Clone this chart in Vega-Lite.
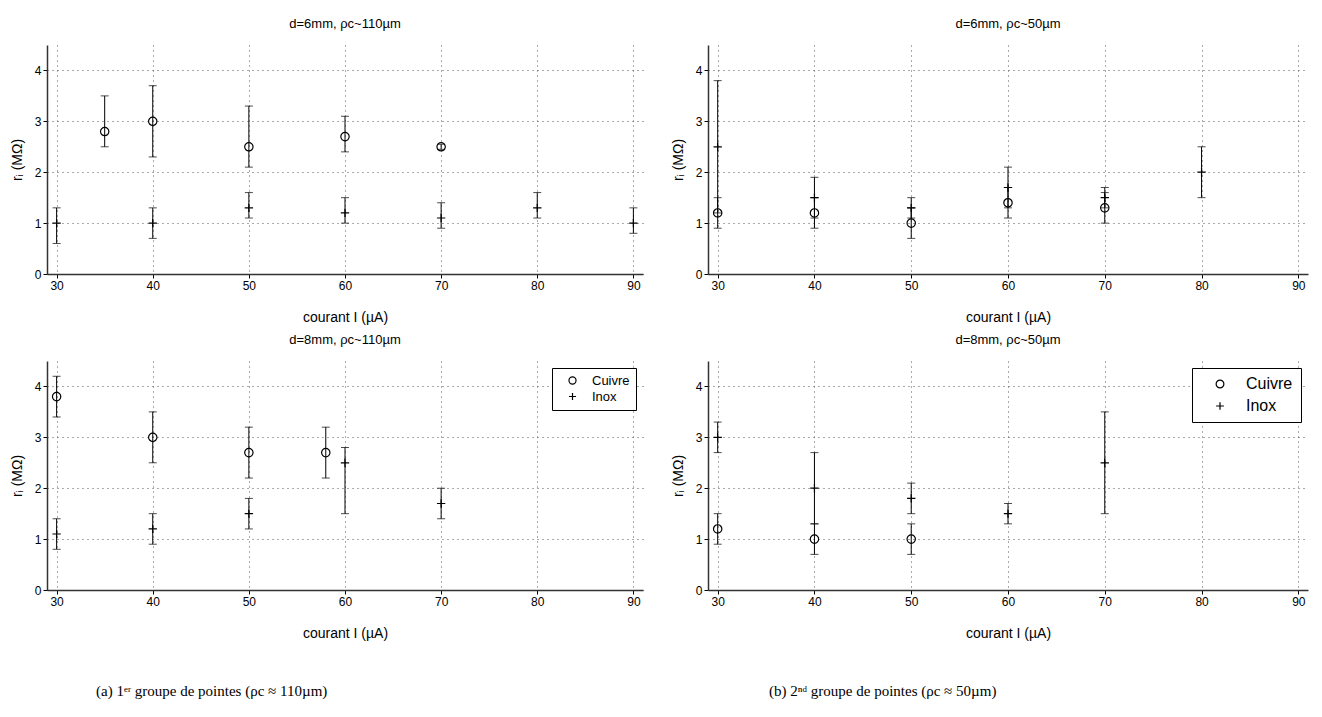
{
  "$schema": "https://vega.github.io/schema/vega-lite/v6.json",
  "padding": {"left": 10, "top": 18, "right": 5, "bottom": 5},
  "background": "white",
  "datasets": {
    "pts": [
      {"p": "A", "s": "Cuivre", "I": 35, "r": 2.8, "lo": 2.5, "hi": 3.5},
      {"p": "A", "s": "Cuivre", "I": 40, "r": 3.0, "lo": 2.3, "hi": 3.7},
      {"p": "A", "s": "Cuivre", "I": 50, "r": 2.5, "lo": 2.1, "hi": 3.3},
      {"p": "A", "s": "Cuivre", "I": 60, "r": 2.7, "lo": 2.4, "hi": 3.1},
      {"p": "A", "s": "Cuivre", "I": 70, "r": 2.5, "lo": 2.45, "hi": 2.55},
      {"p": "A", "s": "Inox", "I": 30, "r": 1.0, "lo": 0.6, "hi": 1.3},
      {"p": "A", "s": "Inox", "I": 40, "r": 1.0, "lo": 0.7, "hi": 1.3},
      {"p": "A", "s": "Inox", "I": 50, "r": 1.3, "lo": 1.1, "hi": 1.6},
      {"p": "A", "s": "Inox", "I": 60, "r": 1.2, "lo": 1.0, "hi": 1.5},
      {"p": "A", "s": "Inox", "I": 70, "r": 1.1, "lo": 0.9, "hi": 1.4},
      {"p": "A", "s": "Inox", "I": 80, "r": 1.3, "lo": 1.1, "hi": 1.6},
      {"p": "A", "s": "Inox", "I": 90, "r": 1.0, "lo": 0.8, "hi": 1.3},
      {"p": "B", "s": "Cuivre", "I": 30, "r": 1.2, "lo": 0.9, "hi": 1.5},
      {"p": "B", "s": "Cuivre", "I": 40, "r": 1.2, "lo": 0.9, "hi": 1.5},
      {"p": "B", "s": "Cuivre", "I": 50, "r": 1.0, "lo": 0.7, "hi": 1.3},
      {"p": "B", "s": "Cuivre", "I": 60, "r": 1.4, "lo": 1.1, "hi": 1.7},
      {"p": "B", "s": "Cuivre", "I": 70, "r": 1.3, "lo": 1.0, "hi": 1.6},
      {"p": "B", "s": "Inox", "I": 30, "r": 2.5, "lo": 1.2, "hi": 3.8},
      {"p": "B", "s": "Inox", "I": 40, "r": 1.5, "lo": 1.1, "hi": 1.9},
      {"p": "B", "s": "Inox", "I": 50, "r": 1.3, "lo": 1.1, "hi": 1.5},
      {"p": "B", "s": "Inox", "I": 60, "r": 1.7, "lo": 1.3, "hi": 2.1},
      {"p": "B", "s": "Inox", "I": 70, "r": 1.5, "lo": 1.3, "hi": 1.7},
      {"p": "B", "s": "Inox", "I": 80, "r": 2.0, "lo": 1.5, "hi": 2.5},
      {"p": "C", "s": "Cuivre", "I": 30, "r": 3.8, "lo": 3.4, "hi": 4.2},
      {"p": "C", "s": "Cuivre", "I": 40, "r": 3.0, "lo": 2.5, "hi": 3.5},
      {"p": "C", "s": "Cuivre", "I": 50, "r": 2.7, "lo": 2.2, "hi": 3.2},
      {"p": "C", "s": "Cuivre", "I": 58, "r": 2.7, "lo": 2.2, "hi": 3.2},
      {"p": "C", "s": "Inox", "I": 30, "r": 1.1, "lo": 0.8, "hi": 1.4},
      {"p": "C", "s": "Inox", "I": 40, "r": 1.2, "lo": 0.9, "hi": 1.5},
      {"p": "C", "s": "Inox", "I": 50, "r": 1.5, "lo": 1.2, "hi": 1.8},
      {"p": "C", "s": "Inox", "I": 60, "r": 2.5, "lo": 1.5, "hi": 2.8},
      {"p": "C", "s": "Inox", "I": 70, "r": 1.7, "lo": 1.4, "hi": 2.0},
      {"p": "D", "s": "Cuivre", "I": 30, "r": 1.2, "lo": 0.9, "hi": 1.5},
      {"p": "D", "s": "Cuivre", "I": 40, "r": 1.0, "lo": 0.7, "hi": 1.3},
      {"p": "D", "s": "Cuivre", "I": 50, "r": 1.0, "lo": 0.7, "hi": 1.3},
      {"p": "D", "s": "Inox", "I": 30, "r": 3.0, "lo": 2.7, "hi": 3.3},
      {"p": "D", "s": "Inox", "I": 40, "r": 2.0, "lo": 1.3, "hi": 2.7},
      {"p": "D", "s": "Inox", "I": 50, "r": 1.8, "lo": 1.5, "hi": 2.1},
      {"p": "D", "s": "Inox", "I": 60, "r": 1.5, "lo": 1.3, "hi": 1.7},
      {"p": "D", "s": "Inox", "I": 70, "r": 2.5, "lo": 1.5, "hi": 3.5}
    ]
  },
  "resolve": {"scale": {"shape": "independent"}, "legend": {"shape": "independent"}},
  "spacing": 28,
  "hconcat": [
    {
      "title": {"text": "(a) 1ᵉʳ groupe de pointes (ρc ≈ 110µm)", "orient": "bottom", "anchor": "middle", "dx": -115, "offset": 44, "font": "Liberation Serif", "fontSize": 15},
      "resolve": {"scale": {"shape": "independent"}, "legend": {"shape": "independent"}},
      "spacing": 10,
      "vconcat": [
        {
          "title": "d=6mm, ρc~110µm",
          "width": 596, "height": 229,
          "data": {"name": "pts"},
          "transform": [{"filter": "datum.p === 'A'"}],
          "encoding": {
            "x": {"field": "I", "type": "quantitative", "title": "courant I (µA)", "scale": {"domain": [29, 91], "nice": false, "zero": false}, "axis": {"values": [30, 40, 50, 60, 70, 80, 90]}}
          },
          "layer": [
            {"mark": {"type": "rule", "color": "black", "strokeWidth": 1}, "encoding": {"y": {"field": "lo", "type": "quantitative", "title": "rᵢ (MΩ)", "scale": {"domain": [0, 4.5], "nice": false}, "axis": {"values": [0, 1, 2, 3, 4]}}, "y2": {"field": "hi"}}},
            {"mark": {"type": "tick", "orient": "horizontal", "size": 8, "thickness": 1, "color": "black"}, "encoding": {"y": {"field": "lo", "type": "quantitative", "title": "rᵢ (MΩ)"}}},
            {"mark": {"type": "tick", "orient": "horizontal", "size": 8, "thickness": 1, "color": "black"}, "encoding": {"y": {"field": "hi", "type": "quantitative", "title": "rᵢ (MΩ)"}}},
            {"mark": {"type": "point", "filled": false, "color": "black", "strokeWidth": 1.2, "opacity": 1}, "encoding": {"y": {"field": "r", "type": "quantitative", "title": "rᵢ (MΩ)"}, "shape": {"field": "s", "type": "nominal", "scale": {"domain": ["Cuivre", "Inox"], "range": ["circle", "M-1,0L1,0M0,-1L0,1"]}, "legend": null}, "size": {"value": 70}}}
          ]
        },
        {
          "title": "d=8mm, ρc~110µm",
          "width": 596, "height": 229,
          "data": {"name": "pts"},
          "transform": [{"filter": "datum.p === 'C'"}],
          "encoding": {
            "x": {"field": "I", "type": "quantitative", "title": "courant I (µA)", "scale": {"domain": [29, 91], "nice": false, "zero": false}, "axis": {"values": [30, 40, 50, 60, 70, 80, 90]}}
          },
          "layer": [
            {"mark": {"type": "rule", "color": "black", "strokeWidth": 1}, "encoding": {"y": {"field": "lo", "type": "quantitative", "title": "rᵢ (MΩ)", "scale": {"domain": [0, 4.5], "nice": false}, "axis": {"values": [0, 1, 2, 3, 4]}}, "y2": {"field": "hi"}}},
            {"mark": {"type": "tick", "orient": "horizontal", "size": 8, "thickness": 1, "color": "black"}, "encoding": {"y": {"field": "lo", "type": "quantitative", "title": "rᵢ (MΩ)"}}},
            {"mark": {"type": "tick", "orient": "horizontal", "size": 8, "thickness": 1, "color": "black"}, "encoding": {"y": {"field": "hi", "type": "quantitative", "title": "rᵢ (MΩ)"}}},
            {"mark": {"type": "point", "filled": false, "color": "black", "strokeWidth": 1.2, "opacity": 1}, "encoding": {"y": {"field": "r", "type": "quantitative", "title": "rᵢ (MΩ)"}, "shape": {"field": "s", "type": "nominal", "scale": {"domain": ["Cuivre", "Inox"], "range": ["circle", "M-1,0L1,0M0,-1L0,1"]}, "legend": {"title": null, "orient": "top-right", "offset": 7, "strokeColor": "black", "fillColor": "white", "padding": 6, "labelFontSize": 13, "symbolSize": 50, "symbolStrokeColor": "black", "symbolStrokeWidth": 1.2, "rowPadding": 2, "symbolOffset": 8, "labelOffset": 13}}, "size": {"value": 70}}}
          ]
        }
      ]
    },
    {
      "title": {"text": "(b) 2ⁿᵈ groupe de pointes (ρc ≈ 50µm)", "orient": "bottom", "anchor": "middle", "dx": -107, "offset": 44, "font": "Liberation Serif", "fontSize": 15},
      "resolve": {"scale": {"shape": "independent"}, "legend": {"shape": "independent"}},
      "spacing": 10,
      "vconcat": [
        {
          "title": "d=6mm, ρc~50µm",
          "width": 600, "height": 229,
          "data": {"name": "pts"},
          "transform": [{"filter": "datum.p === 'B'"}],
          "encoding": {
            "x": {"field": "I", "type": "quantitative", "title": "courant I (µA)", "scale": {"domain": [29, 91], "nice": false, "zero": false}, "axis": {"values": [30, 40, 50, 60, 70, 80, 90]}}
          },
          "layer": [
            {"mark": {"type": "rule", "color": "black", "strokeWidth": 1}, "encoding": {"y": {"field": "lo", "type": "quantitative", "title": "rᵢ (MΩ)", "scale": {"domain": [0, 4.5], "nice": false}, "axis": {"values": [0, 1, 2, 3, 4]}}, "y2": {"field": "hi"}}},
            {"mark": {"type": "tick", "orient": "horizontal", "size": 8, "thickness": 1, "color": "black"}, "encoding": {"y": {"field": "lo", "type": "quantitative", "title": "rᵢ (MΩ)"}}},
            {"mark": {"type": "tick", "orient": "horizontal", "size": 8, "thickness": 1, "color": "black"}, "encoding": {"y": {"field": "hi", "type": "quantitative", "title": "rᵢ (MΩ)"}}},
            {"mark": {"type": "point", "filled": false, "color": "black", "strokeWidth": 1.2, "opacity": 1}, "encoding": {"y": {"field": "r", "type": "quantitative", "title": "rᵢ (MΩ)"}, "shape": {"field": "s", "type": "nominal", "scale": {"domain": ["Cuivre", "Inox"], "range": ["circle", "M-1,0L1,0M0,-1L0,1"]}, "legend": null}, "size": {"value": 70}}}
          ]
        },
        {
          "title": "d=8mm, ρc~50µm",
          "width": 600, "height": 229,
          "data": {"name": "pts"},
          "transform": [{"filter": "datum.p === 'D'"}],
          "encoding": {
            "x": {"field": "I", "type": "quantitative", "title": "courant I (µA)", "scale": {"domain": [29, 91], "nice": false, "zero": false}, "axis": {"values": [30, 40, 50, 60, 70, 80, 90]}}
          },
          "layer": [
            {"mark": {"type": "rule", "color": "black", "strokeWidth": 1}, "encoding": {"y": {"field": "lo", "type": "quantitative", "title": "rᵢ (MΩ)", "scale": {"domain": [0, 4.5], "nice": false}, "axis": {"values": [0, 1, 2, 3, 4]}}, "y2": {"field": "hi"}}},
            {"mark": {"type": "tick", "orient": "horizontal", "size": 8, "thickness": 1, "color": "black"}, "encoding": {"y": {"field": "lo", "type": "quantitative", "title": "rᵢ (MΩ)"}}},
            {"mark": {"type": "tick", "orient": "horizontal", "size": 8, "thickness": 1, "color": "black"}, "encoding": {"y": {"field": "hi", "type": "quantitative", "title": "rᵢ (MΩ)"}}},
            {"mark": {"type": "point", "filled": false, "color": "black", "strokeWidth": 1.2, "opacity": 1}, "encoding": {"y": {"field": "r", "type": "quantitative", "title": "rᵢ (MΩ)"}, "shape": {"field": "s", "type": "nominal", "scale": {"domain": ["Cuivre", "Inox"], "range": ["circle", "M-1,0L1,0M0,-1L0,1"]}, "legend": {"title": null, "orient": "top-right", "offset": 7, "strokeColor": "black", "fillColor": "white", "padding": 8, "labelFontSize": 16, "symbolSize": 60, "symbolStrokeColor": "black", "symbolStrokeWidth": 1.2, "rowPadding": 6, "symbolOffset": 12, "labelOffset": 18}}, "size": {"value": 70}}}
          ]
        }
      ]
    }
  ],
  "config": {
    "font": "Liberation Sans",
    "view": {"stroke": null},
    "title": {"font": "Liberation Sans", "fontSize": 13, "fontWeight": "normal", "color": "black", "offset": 14},
    "axis": {
      "labelFont": "Liberation Sans", "labelFontSize": 12, "labelColor": "black",
      "titleFont": "Liberation Sans", "titleFontSize": 14, "titleFontWeight": "normal", "titleColor": "black",
      "domainColor": "#333", "domainWidth": 1.5, "tickColor": "black", "tickSize": 4,
      "gridColor": "#555", "gridDash": [1, 4], "gridWidth": 1
    },
    "axisX": {"titlePadding": 19},
    "axisY": {"titlePadding": 10},
    "legend": {"labelFont": "Liberation Sans", "labelColor": "black"}
  }
}
